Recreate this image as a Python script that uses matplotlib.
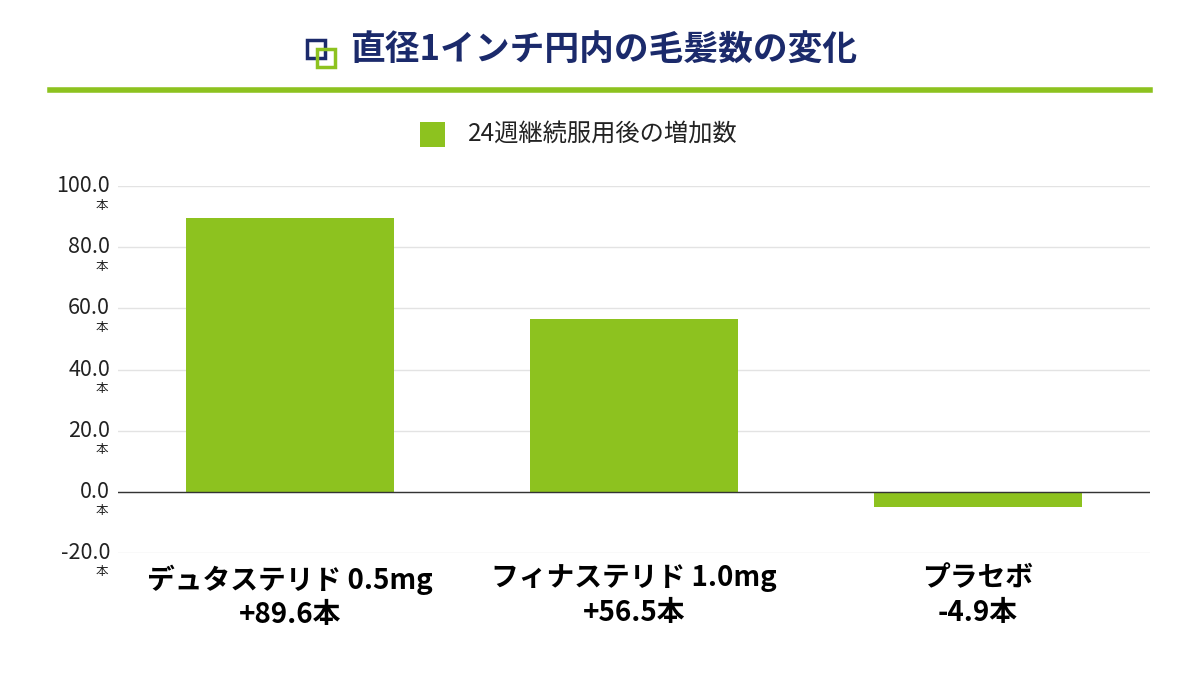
import matplotlib
matplotlib.use("Agg")
import matplotlib.pyplot as plt
from matplotlib.patches import Rectangle
from matplotlib.lines import Line2D
import matplotlib.transforms as mt

plt.rcParams['font.family'] = ['Noto Sans CJK JP', 'DejaVu Sans']

categories = ["デュタステリド 0.5mg\n+89.6本", "フィナステリド 1.0mg\n+56.5本", "プラセボ\n-4.9本"]
values = [89.6, 56.5, -4.9]
yticks = [-20, 0, 20, 40, 60, 80, 100]
series_name = "24週継続服用後の増加数"
title = "直径1インチ円内の毛髪数の変化"

GREEN = "#8dc21f"
NAVY = "#1b2a6b"

fig = plt.figure(figsize=(12, 6.75), dpi=100)
ax = fig.add_axes([118/1200, 1-553/675, 1032/1200, (553-186)/675])
x = list(range(len(values)))
ax.bar(x, values, width=0.605, color=GREEN, zorder=3)
ax.set_xlim(-0.5, 2.5)
ax.set_ylim(-20, 100)
ax.set_yticks(yticks)
ax.yaxis.grid(True, color="#e3e3e3", linewidth=1, zorder=0)
ax.axhline(0, color="#333333", linewidth=1, zorder=4)
for s in ax.spines.values():
    s.set_visible(False)
ax.tick_params(axis='y', length=0, labelleft=False)
ax.tick_params(axis='x', length=0, pad=8)
ax.set_xticks(x)
ax.set_xticklabels(categories, fontsize=20, fontweight='bold', linespacing=1.3)
tr = mt.blended_transform_factory(fig.transFigure, ax.transData)
for t in yticks:
    ax.text(110/1200, t, f"{t:.1f}", transform=tr, ha='right', va='center', fontsize=15.5, color="#222222")
    ax.text(108/1200, t, "本", transform=tr + mt.ScaledTranslation(0, -19/100, fig.dpi_scale_trans),
            ha='right', va='center', fontsize=9, color="#222222")

# title
fig.text(350/1200, 1-50/675, title, fontsize=25, fontweight='bold', color=NAVY, va='center', ha='left')
fig.add_artist(Rectangle((307/1200, 1-58/675), 18/1200, 18/675, transform=fig.transFigure,
                         fill=False, edgecolor=NAVY, linewidth=2.5))
fig.add_artist(Rectangle((317/1200, 1-67/675), 18/1200, 18/675, transform=fig.transFigure,
                         fill=False, edgecolor=GREEN, linewidth=2.5))
fig.add_artist(Line2D([50/1200, 1150/1200], [1-90/675, 1-90/675], transform=fig.transFigure,
                      color=GREEN, linewidth=4))
# legend
fig.add_artist(Rectangle((420/1200, 1-147/675), 25/1200, 25/675, transform=fig.transFigure,
                         facecolor=GREEN, edgecolor='none'))
fig.text(468/1200, 1-135/675, series_name, fontsize=17.5, color="#222222", va='center', ha='left')

fig.savefig("out.png", dpi=100, facecolor='white')
